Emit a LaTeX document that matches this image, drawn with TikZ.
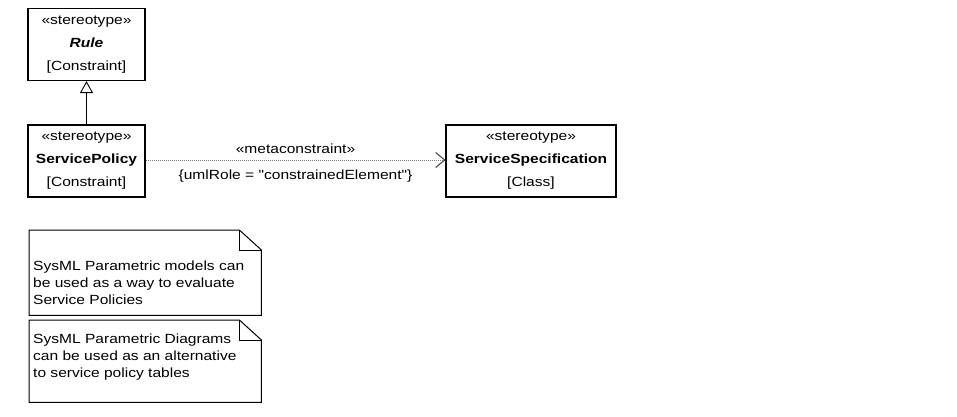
\documentclass[tikz,border=0pt]{standalone}
\usepackage{fontspec}
\setmainfont[FakeStretch=1.17,Ligatures=TeXOff]{Liberation Sans}
\usetikzlibrary{arrows.meta}
\begin{document}
\begin{tikzpicture}[x=1pt,y=-1pt,
  every node/.style={font=\fontsize{13.3}{23}\selectfont},
  classbox/.style={draw=black,line width=1.1pt,minimum width=117pt,minimum height=72pt,align=center,inner sep=0pt},
  wide/.style={minimum width=170pt},
  lbl/.style={inner sep=0pt},
  noteline/.style={draw=black,line width=1pt},
  notetext/.style={align=left,anchor=north west,inner sep=0pt,font=\fontsize{13.3}{17}\selectfont},
  noteframe/.style={inner sep=0pt,minimum width=232pt,anchor=north west}
]
\useasboundingbox (0,0) rectangle (957,417);
% classes
\node[classbox] (rule) at (86.5,44.5) {«stereotype»\\\textbf{\textit{Rule}}\\{}[Constraint]};
\node[classbox] (policy) at (86.5,161) {«stereotype»\\\textbf{ServicePolicy}\\{}[Constraint]};
\node[classbox,wide] (spec) at (531,161) {«stereotype»\\\textbf{ServiceSpecification}\\{}[Class]};
% generalization
\draw[line width=0.9pt,-{Triangle[open,length=12pt,width=13pt]}] (policy) -- (rule);
% dependency
\draw[gray,line width=1pt,dash pattern=on 1pt off 1pt,-{Straight Barb[length=9pt,width=15pt,color=black!75]}]
  (policy.east |- 0,160) -- (spec.west |- 0,160)
  node[pos=0.5,above=6pt,black,lbl] (stereo) {«metaconstraint»}
  node[pos=0.5,below=9.5pt,black,lbl] (tag) {\{umlRole = "constrainedElement"\}};
% notes
\node[noteframe,minimum height=85pt] (n1) at (29,230) {};
\draw[noteline] (n1.north west) -- ([xshift=-22pt]n1.north east) -- ([yshift=-20pt]n1.north east) -- (n1.south east) -- (n1.south west) -- cycle;
\draw[noteline] ([xshift=-22pt]n1.north east) -- ([xshift=-22pt,yshift=-20pt]n1.north east) -- ([yshift=-20pt]n1.north east);
\node[notetext] (t1) at (33,261) {SysML Parametric models can\\be used as a way to evaluate\\Service Policies};
\node[noteframe,minimum height=82pt] (n2) at (29,320) {};
\draw[noteline] (n2.north west) -- ([xshift=-22pt]n2.north east) -- ([yshift=-20pt]n2.north east) -- (n2.south east) -- (n2.south west) -- cycle;
\draw[noteline] ([xshift=-22pt]n2.north east) -- ([xshift=-22pt,yshift=-20pt]n2.north east) -- ([yshift=-20pt]n2.north east);
\node[notetext] (t2) at (33,333.5) {SysML Parametric Diagrams\\can be used as an alternative\\to service policy tables};
\end{tikzpicture}
\end{document}
